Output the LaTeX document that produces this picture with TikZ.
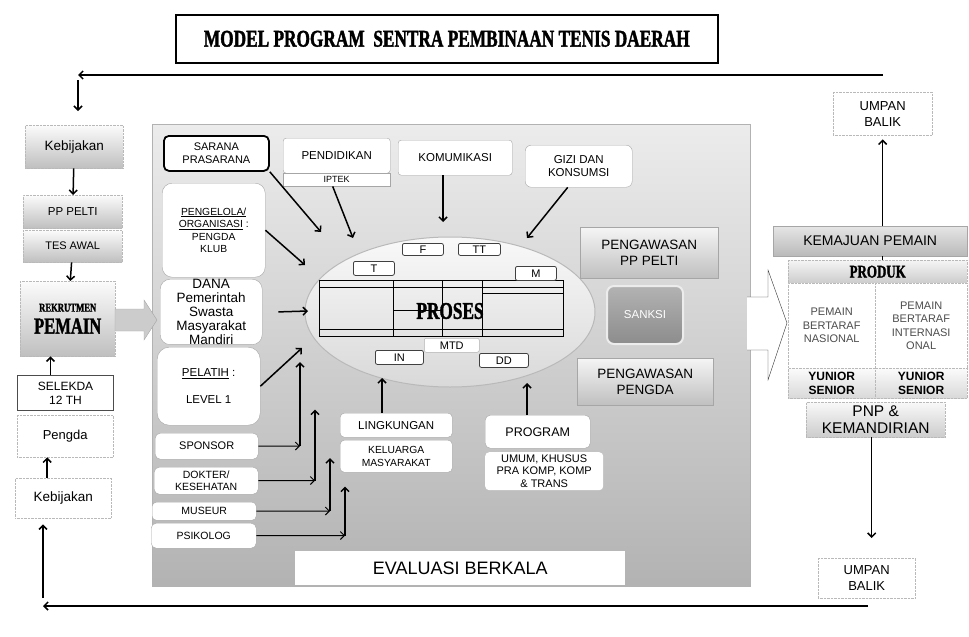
\documentclass[tikz,border=0pt]{standalone}
\usepackage{fontspec}
\setmainfont{Liberation Sans}
\newfontfamily\judul[FakeStretch=0.72, FakeBold=1.5]{Liberation Serif}
\usetikzlibrary{arrows.meta, shapes.geometric}

\tikzset{
  putih/.style={draw=gray!70, fill=white, rounded corners=3pt, align=center, inner sep=0pt, anchor=north west, text=black},
  abu/.style={draw=gray!55, densely dotted, top color=gray!3, bottom color=gray!50, align=center, inner sep=0pt, anchor=north west, text=black},
  bingkai/.style={draw=gray!55, densely dotted, fill=white, align=center, inner sep=0pt, anchor=north west, text=black},
  kecil/.style={draw=black!75, line width=0.8pt, fill=white, rounded corners=2pt, inner sep=0pt, anchor=north west, font=\fontsize{11}{11}\selectfont},
  panah/.style={-{Straight Barb[length=4pt,width=8pt]}, line width=1.5pt}
}

\begin{document}
\begin{tikzpicture}[x=1pt,y=-1pt]
\useasboundingbox (0,0) rectangle (969,637);

\node[draw, line width=1.6pt, minimum width=542, minimum height=48, anchor=north west, font=\judul\bfseries\fontsize{24}{24}\selectfont] (judul) at (175,14) {MODEL PROGRAM \ SENTRA PEMBINAAN TENIS DAERAH};

% panel tengah
\shade[top color=gray!15, bottom color=gray!60, draw=gray!60] (152,124) rectangle (750,586);

% kolom kiri
\node[abu, minimum width=98, minimum height=43, font=\fontsize{13.5}{15}\selectfont] (keb1) at (25,125) {Kebijakan};
\node[abu, minimum width=99, minimum height=33, font=\fontsize{11.5}{13}\selectfont] (pp) at (23,195) {PP PELTI};
\node[abu, minimum width=99, minimum height=32, font=\fontsize{11}{13}\selectfont] (tes) at (23,230) {TES AWAL};
\node[abu, minimum width=95, minimum height=75, font=\judul\bfseries\fontsize{12}{22}\selectfont] (rek) at (20,281) {REKRUTMEN\\{\fontsize{23}{24}\selectfont PEMAIN}};
\node[bingkai, draw=black!70, solid, line width=1pt, minimum width=96, minimum height=35, font=\fontsize{12}{14}\selectfont] (sel) at (17,375) {SELEKDA\\12 TH};
\node[bingkai, minimum width=96, minimum height=42, font=\fontsize{13}{15}\selectfont] (pengda) at (17,415) {Pengda};
\node[bingkai, minimum width=96, minimum height=40, font=\fontsize{13.5}{15}\selectfont] (keb2) at (15,478) {Kebijakan};
\filldraw[fill=gray!40, draw=gray!70] (115,309) -- (144,309) -- (144,300) -- (157,320) -- (144,340) -- (144,331) -- (115,331) -- cycle;

\draw[panah] (keb1) -- (pp);
\draw[panah] (tes) -- (rek);
\draw[panah] ([xshift=-15pt]sel.north) -- ([xshift=-15pt]sel.north |- rek.south);
\draw[panah] ([xshift=-16pt]keb2.north) -- ([xshift=-16pt]keb2.north |- pengda.south);

% umpan balik
\coordinate (fbA) at (883,75);
\coordinate (fbB) at (78,75);
\coordinate (fbC) at (78,80);
\coordinate (fbD) at (868,606);
\coordinate (fbE) at (43,606);
\coordinate (fbF) at (43,598);
\draw[panah] (fbA) -- (fbB);
\draw[panah, shorten >=14pt] (fbC) -- (fbC |- keb1.north);
\draw[panah] (fbD) -- (fbE);
\draw[panah, shorten >=6pt] (fbF) -- (fbF |- keb2.south);

% kotak atas
\node[putih, draw=black, line width=1.8pt, rounded corners=5pt, minimum width=105, minimum height=35, font=\fontsize{11}{13}\selectfont] (sar) at (163,135) {SARANA\\PRASARANA};
\node[putih, minimum width=107, minimum height=35, font=\fontsize{11.5}{13}\selectfont] (pend) at (283,138) {PENDIDIKAN};
\node[putih, rounded corners=0pt, minimum width=107, minimum height=13, font=\fontsize{9}{9}\selectfont] (ipt) at (283,173) {IPTEK};
\node[putih, minimum width=114, minimum height=35, font=\fontsize{11.5}{13}\selectfont] (kom) at (398,140) {KOMUMIKASI};
\node[putih, rounded corners=6pt, minimum width=107, minimum height=42, font=\fontsize{11.5}{13.5}\selectfont] (giz) at (525,145) {GIZI DAN\\KONSUMSI};

% kotak kiri dalam
\node[putih, rounded corners=10pt, minimum width=103, minimum height=94, font=\fontsize{10.3}{12.5}\selectfont] (pgl) at (162,183) {\underline{PENGELOLA/}\\\underline{ORGANISASI} :\\PENGDA\\KLUB};
\node[putih, rounded corners=10pt, minimum width=102, minimum height=64, font=\fontsize{13.5}{14}\selectfont] (dana) at (160,279) {DANA\\Pemerintah\\Swasta\\Masyarakat\\Mandiri};
\node[putih, rounded corners=12pt, minimum width=103, minimum height=78, font=\fontsize{11.5}{13}\selectfont] (pel) at (157,347) {\underline{PELATIH} :\\[14pt]LEVEL 1};
\node[putih, rounded corners=5pt, minimum width=103, minimum height=26, font=\fontsize{11}{13}\selectfont] (spo) at (155,433) {SPONSOR};
\node[putih, rounded corners=5pt, minimum width=104, minimum height=27, font=\fontsize{10.5}{12}\selectfont] (dok) at (154,467) {DOKTER/\\KESEHATAN};
\node[putih, rounded corners=4pt, minimum width=104, minimum height=18, font=\fontsize{10.5}{12}\selectfont] (mus) at (152,502) {MUSEUR};
\node[putih, rounded corners=5pt, minimum width=105, minimum height=25, font=\fontsize{10.5}{12}\selectfont] (psi) at (151,523) {PSIKOLOG};
\node[putih, rounded corners=0pt, draw=none, minimum width=330, minimum height=34, font=\fontsize{18}{20}\selectfont] (eva) at (295,551) {EVALUASI BERKALA};

% proses
\node[ellipse, draw=gray!55, line width=1pt, top color=gray!5, bottom color=gray!30, minimum width=290, minimum height=150, inner sep=0pt] (proses) at (450,312) {};
\draw[line width=0.8pt] (319,280) rectangle (563,336);
\draw (319,287) -- (563,287);
\draw (319,329) -- (563,329);
\foreach \x in {393,442,482}
  \draw (\x,280) -- (\x,336);
\draw (393,310) -- (442,310);
\draw (482,293) -- (563,293);
\node[font=\judul\bfseries\fontsize{24}{24}\selectfont] (prosesT) at (450,311) {PROSES};
\node[kecil, minimum width=41, minimum height=12] (f) at (402,243) {F};
\node[kecil, minimum width=42, minimum height=12] (tt) at (458,243) {TT};
\node[kecil, minimum width=41, minimum height=14] (t) at (353,261) {T};
\node[kecil, minimum width=41, minimum height=14] (m) at (515,266) {M};
\node[kecil, draw=gray!60, line width=0.5pt, minimum width=55, minimum height=14] (mtd) at (424,338) {MTD};
\node[kecil, minimum width=48, minimum height=14] (in) at (375,350) {IN};
\node[kecil, minimum width=49, minimum height=14] (dd) at (479,353) {DD};

% bawah proses
\node[putih, rounded corners=4pt, minimum width=112, minimum height=24, font=\fontsize{11.5}{13}\selectfont] (lin) at (340,413) {LINGKUNGAN};
\node[putih, rounded corners=4pt, minimum width=112, minimum height=32, font=\fontsize{10.3}{12.5}\selectfont] (kel) at (340,440) {KELUARGA\\MASYARAKAT};
\node[putih, rounded corners=5pt, minimum width=105, minimum height=33, font=\fontsize{12.5}{14}\selectfont] (prog) at (485,415) {PROGRAM};
\node[putih, draw=none, rounded corners=4pt, minimum width=118, minimum height=38, font=\fontsize{11}{12.5}\selectfont] (umum) at (485,452) {UMUM, KHUSUS\\PRA KOMP, KOMP\\\& TRANS};

% pengawasan
\node[abu, solid, draw=gray!70, top color=gray!8, bottom color=gray!50, minimum width=138, minimum height=51, font=\fontsize{13.5}{16}\selectfont] (wpp) at (580,227) {PENGAWASAN\\PP PELTI};
\node[draw=gray!15, line width=2pt, rounded corners=7pt, top color=gray!60, bottom color=gray!90, minimum width=76, minimum height=58, anchor=north west, text=white, font=\fontsize{11.5}{13}\selectfont] (sanksi) at (606,285) {SANKSI};
\node[abu, solid, draw=gray!70, top color=gray!8, bottom color=gray!50, minimum width=136, minimum height=47, font=\fontsize{13.5}{16}\selectfont] (wpd) at (577,358) {PENGAWASAN\\PENGDA};

% panah ke proses
\coordinate (pSar) at (321,232);
\coordinate (pIpt) at (353,238);
\coordinate (pKom) at (443,222);
\coordinate (pGiz) at (527,238);
\coordinate (pPgl) at (305,265);
\coordinate (pDan) at (308,311);
\coordinate (pPel) at (302,348);
\coordinate (cSpo) at (300,446);
\coordinate (cDok) at (315,480.5);
\coordinate (cMus) at (330,511);
\coordinate (cPsi) at (345,535.5);
\coordinate (pLin) at (382,378);
\coordinate (pPro) at (527,383);
\draw[panah] (sar.south east) -- (pSar);
\draw[panah] ([xshift=-4pt]ipt.south) -- (pIpt);
\draw[panah] (kom.south -| pKom) -- (pKom);
\draw[panah] ([xshift=-11pt]giz.south) -- (pGiz);
\draw[panah] (pgl.east) -- (pPgl);
\draw[panah] ([xshift=16pt]dana.east) -- (pDan);
\draw[panah] (pel.east) -- (pPel);
\draw[panah, line width=1pt] (spo) -- (cSpo);
\draw[panah] (cSpo) -- ++(0,-84);
\draw[panah, line width=1pt] (dok) -- (cDok);
\draw[panah] (cDok) -- ++(0,-71);
\draw[panah, line width=1pt] (mus) -- (cMus);
\draw[panah] (cMus) -- ++(0,-53);
\draw[panah, line width=1pt] (psi) -- (cPsi);
\draw[panah] (cPsi) -- ++(0,-49);
\draw[panah] (lin.north -| pLin) -- (pLin);
\draw[panah] (prog.north -| pPro) -- (pPro);

% hasil
\filldraw[fill=white, draw=black!80] (747,297) -- (768,297) -- (768,270) -- (787,323) -- (768,380) -- (768,350) -- (747,350);
\node[bingkai, minimum width=99, minimum height=43, font=\fontsize{13}{16}\selectfont] (ub1) at (833,92) {UMPAN\\BALIK};
\node[abu, solid, draw=gray!70, top color=gray!20, bottom color=gray!55, minimum width=194, minimum height=30, font=\fontsize{14}{16}\selectfont] (kem) at (773,226) {KEMAJUAN PEMAIN};
\node[abu, top color=gray!8, bottom color=gray!40, minimum width=179, minimum height=23, font=\judul\bfseries\fontsize{18}{18}\selectfont] (prodH) at (788,260) {PRODUK};
\node[bingkai, minimum width=87, minimum height=85, text=black!70, font=\fontsize{11}{13.5}\selectfont] (nas) at (788,283) {PEMAIN\\BERTARAF\\NASIONAL};
\node[bingkai, minimum width=92, minimum height=85, text=black!70, font=\fontsize{11}{13.5}\selectfont] (int) at (875,283) {PEMAIN\\BERTARAF\\INTERNASI\\ONAL};
\node[abu, top color=gray!3, bottom color=gray!30, minimum width=87, minimum height=30, font=\bfseries\fontsize{12}{14}\selectfont] (yun1) at (788,368) {YUNIOR\\SENIOR};
\node[abu, top color=gray!3, bottom color=gray!30, minimum width=92, minimum height=30, font=\bfseries\fontsize{12}{14}\selectfont] (yun2) at (875,368) {YUNIOR\\SENIOR};
\node[abu, top color=gray!5, bottom color=gray!40, minimum width=139, minimum height=35, font=\fontsize{15.5}{17}\selectfont] (pnp) at (806,402) {PNP \&\\KEMANDIRIAN};
\node[bingkai, minimum width=97, minimum height=40, font=\fontsize{13}{16}\selectfont] (ub2) at (818,558) {UMPAN\\BALIK};
\draw[panah, shorten >=4pt] (kem.north -| ub1) -- (ub1.south);
\draw[line width=1.5pt] (kem.south -| ub1) -- (prodH.north -| ub1);
\draw[panah, shorten >=20pt] ([xshift=-4pt]pnp.south) -- ([xshift=-4pt]pnp.south |- ub2.north);
\end{tikzpicture}
\end{document}
